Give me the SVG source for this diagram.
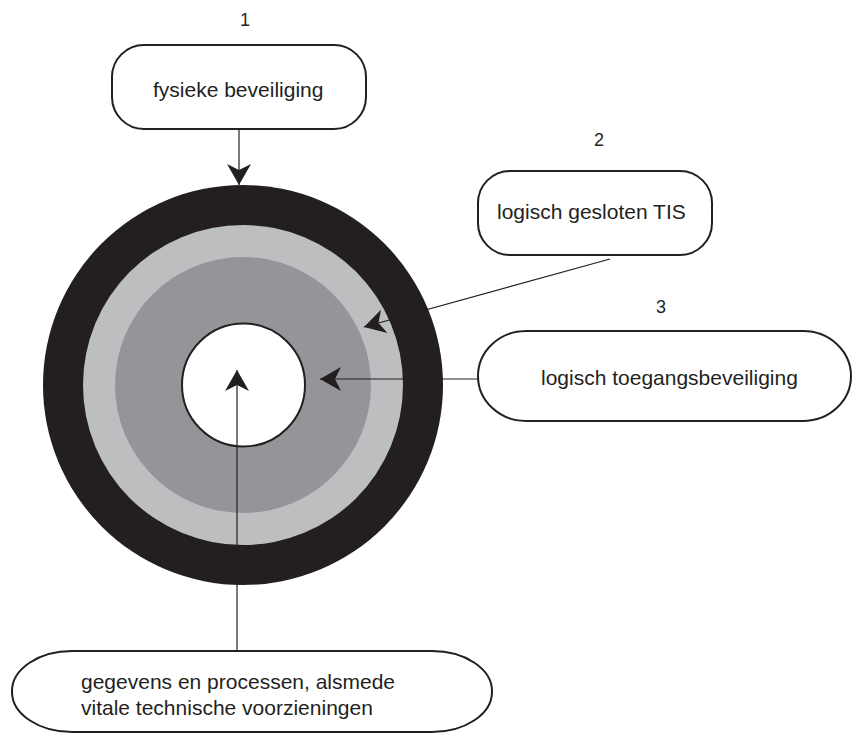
<svg xmlns="http://www.w3.org/2000/svg" width="854" height="735" viewBox="0 0 854 735">
<style>
.box{fill:#ffffff;stroke:#231f20;stroke-width:2}
.lbl{font-family:"Liberation Sans",Arial,sans-serif;font-size:21px;fill:#231f20}
.num{font-family:"Liberation Sans",Arial,sans-serif;font-size:18px;fill:#231f20;text-anchor:middle}
.conn{stroke:#231f20;stroke-width:1.2;fill:none}
</style>
<defs>
<marker id="arr" markerUnits="userSpaceOnUse" markerWidth="24" markerHeight="26" viewBox="-22 -13 24 26" refX="0" refY="0" orient="auto">
<path d="M0,0 L-21,-12 L-15,0 L-21,12 Z" fill="#231f20"/>
</marker>
</defs>
<rect width="854" height="735" fill="#ffffff"/>
<g id="rings">
<circle cx="243" cy="385" r="200" fill="#231f20"/>
<circle cx="243" cy="385" r="160" fill="#bcbec0"/>
<circle cx="243" cy="385" r="128" fill="#939598"/>
<circle cx="243.5" cy="385" r="61.5" fill="#ffffff" stroke="#231f20" stroke-width="2"/>
</g>
<g id="connectors">
<line class="conn" x1="239" y1="130" x2="239" y2="185" marker-end="url(#arr)"/>
<line class="conn" x1="610" y1="259" x2="364" y2="327" marker-end="url(#arr)"/>
<line class="conn" x1="478" y1="379" x2="320" y2="379" marker-end="url(#arr)"/>
<line class="conn" x1="237" y1="651" x2="237" y2="370" marker-end="url(#arr)"/>
</g>
<g id="node1">
<text class="num" x="245" y="26">1</text>
<rect class="box" x="112" y="45" width="254" height="84" rx="32" ry="32"/>
<text class="lbl" x="153" y="97">fysieke beveiliging</text>
</g>
<g id="node2">
<text class="num" x="599" y="146">2</text>
<rect class="box" x="478" y="171" width="234" height="84" rx="32" ry="32"/>
<text class="lbl" x="497" y="219">logisch gesloten TIS</text>
</g>
<g id="node3">
<text class="num" x="661" y="313">3</text>
<rect class="box" x="478" y="331" width="373" height="90" rx="48" ry="45"/>
<text class="lbl" x="541" y="385">logisch toegangsbeveiliging</text>
</g>
<g id="node4">
<rect class="box" x="12" y="651" width="480" height="81" rx="60" ry="40"/>
<text class="lbl" x="81" y="689">gegevens en processen, alsmede</text>
<text class="lbl" x="81" y="715">vitale technische voorzieningen</text>
</g>
</svg>
